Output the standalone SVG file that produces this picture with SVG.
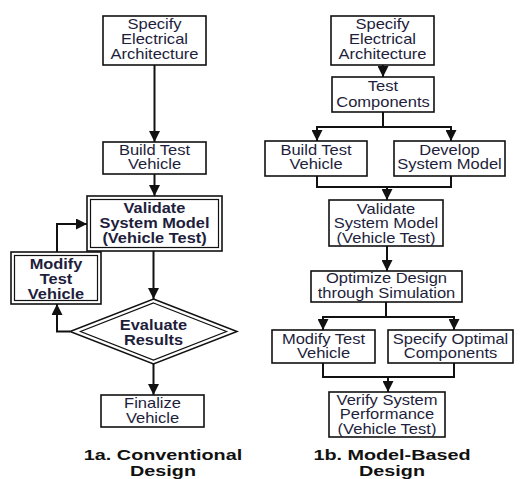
<svg xmlns="http://www.w3.org/2000/svg" width="522" height="479" viewBox="0 0 522 479">
<defs>
<marker id="ah" viewBox="0 0 10 10" refX="10" refY="5" markerWidth="11" markerHeight="11" markerUnits="userSpaceOnUse" orient="auto">
<path d="M0,0 L10,5 L0,10 z" fill="#111"/>
</marker>
<style>
.box{fill:#fff;stroke:#111;stroke-width:1.6}
.thin{fill:none;stroke:#111;stroke-width:1.2}
.t{font-family:"Liberation Sans",Arial,sans-serif;font-size:14px;fill:#1e1e3c;text-anchor:middle}
.b{font-weight:bold}
.cap{font-family:"Liberation Sans",Arial,sans-serif;font-size:15px;font-weight:bold;fill:#111;text-anchor:middle}
.c{fill:none;stroke:#111;stroke-width:2}
.a{fill:none;stroke:#111;stroke-width:2;marker-end:url(#ah)}
</style>
</defs>
<rect width="522" height="479" fill="#fff"/>

<g id="connectors">
<line class="a" x1="154.5" y1="65" x2="154.5" y2="142"/>
<line class="a" x1="154.5" y1="174" x2="154.5" y2="196"/>
<line class="a" x1="153.5" y1="251" x2="153.5" y2="299"/>
<polyline class="a" points="57,252 57,224 87,224"/>
<polyline class="a" points="70,331.5 57,331.5 57,304"/>
<line class="a" x1="153.5" y1="364" x2="153.5" y2="395"/>
<line class="a" x1="383" y1="65" x2="383" y2="77"/>
<line class="c" x1="383" y1="112" x2="383" y2="127"/>
<polyline class="c" points="317,141 317,127 451,127 451,141"/>
<line class="a" x1="317" y1="128" x2="317" y2="141"/>
<line class="a" x1="451" y1="128" x2="451" y2="141"/>
<polyline class="c" points="317,176 317,187 451,187 451,176"/>
<line class="a" x1="387" y1="187" x2="387" y2="200"/>
<line class="a" x1="387" y1="246" x2="387" y2="271"/>
<line class="c" x1="386" y1="302" x2="386" y2="317"/>
<polyline class="c" points="323,330 323,317 454,317 454,330"/>
<line class="a" x1="323" y1="318" x2="323" y2="330"/>
<line class="a" x1="454" y1="318" x2="454" y2="330"/>
<polyline class="c" points="323,363 323,377 454,377 454,363"/>
<line class="a" x1="388" y1="377" x2="388" y2="392"/>
</g>

<g id="l-specify">
<rect class="box" x="103" y="16" width="103" height="49"/>
<text class="t" transform="translate(154.5,0) scale(1.18,1)"><tspan x="0" y="29">Specify</tspan><tspan x="0" y="44">Electrical</tspan><tspan x="0" y="59">Architecture</tspan></text>
</g>
<g id="l-build">
<rect class="box" x="103" y="142" width="103" height="32"/>
<text class="t" transform="translate(154.5,0) scale(1.18,1)"><tspan x="0" y="155">Build Test</tspan><tspan x="0" y="169">Vehicle</tspan></text>
</g>
<g id="l-validate">
<rect class="box" x="87" y="196" width="135" height="55" stroke-width="2.2"/>
<rect class="thin" x="90.5" y="199.5" width="128" height="48"/>
<text class="t b" transform="translate(154.5,0) scale(1.17,1)"><tspan x="0" y="213">Validate</tspan><tspan x="0" y="228">System Model</tspan><tspan x="0" y="243">(Vehicle Test)</tspan></text>
</g>
<g id="l-modify">
<rect class="box" x="11" y="252" width="90" height="52" stroke-width="2.2"/>
<rect class="thin" x="14.5" y="255.5" width="83" height="45"/>
<text class="t b" transform="translate(56,0) scale(1.17,1)"><tspan x="0" y="269">Modify</tspan><tspan x="0" y="284">Test</tspan><tspan x="0" y="299">Vehicle</tspan></text>
</g>
<g id="l-evaluate">
<polygon points="153.5,299 237,331.5 153.5,364 70,331.5" fill="#fff" stroke="#111" stroke-width="1.5"/>
<polygon points="153.5,303 226.5,331.5 153.5,360 80.5,331.5" fill="none" stroke="#111" stroke-width="1.2"/>
<text class="t b" transform="translate(153.5,0) scale(1.17,1)"><tspan x="0" y="330">Evaluate</tspan><tspan x="0" y="345">Results</tspan></text>
</g>
<g id="l-finalize">
<rect class="box" x="101" y="395" width="103" height="32"/>
<text class="t" transform="translate(152.5,0) scale(1.18,1)"><tspan x="0" y="408">Finalize</tspan><tspan x="0" y="423">Vehicle</tspan></text>
</g>

<g id="r-specify">
<rect class="box" x="331" y="16" width="103" height="49"/>
<text class="t" transform="translate(382.5,0) scale(1.18,1)"><tspan x="0" y="29">Specify</tspan><tspan x="0" y="44">Electrical</tspan><tspan x="0" y="59">Architecture</tspan></text>
</g>
<g id="r-test">
<rect class="box" x="332" y="77" width="102" height="35"/>
<text class="t" transform="translate(383,0) scale(1.18,1)"><tspan x="0" y="91">Test</tspan><tspan x="0" y="107">Components</tspan></text>
</g>
<g id="r-build">
<rect class="box" x="265" y="141" width="102" height="35"/>
<text class="t" transform="translate(316,0) scale(1.18,1)"><tspan x="0" y="155">Build Test</tspan><tspan x="0" y="169">Vehicle</tspan></text>
</g>
<g id="r-develop">
<rect class="box" x="394" y="141" width="111" height="35"/>
<text class="t" transform="translate(449.5,0) scale(1.18,1)"><tspan x="0" y="155">Develop</tspan><tspan x="0" y="169">System Model</tspan></text>
</g>
<g id="r-validate">
<rect class="box" x="329" y="200" width="114" height="46"/>
<text class="t" transform="translate(386,0) scale(1.18,1)"><tspan x="0" y="214">Validate</tspan><tspan x="0" y="228">System Model</tspan><tspan x="0" y="243">(Vehicle Test)</tspan></text>
</g>
<g id="r-optimize">
<rect class="box" x="311" y="271" width="151" height="31"/>
<text class="t" transform="translate(386.5,0) scale(1.18,1)"><tspan x="0" y="283">Optimize Design</tspan><tspan x="0" y="298">through Simulation</tspan></text>
</g>
<g id="r-modify">
<rect class="box" x="272" y="330" width="103" height="33"/>
<text class="t" transform="translate(323.5,0) scale(1.18,1)"><tspan x="0" y="344">Modify Test</tspan><tspan x="0" y="358">Vehicle</tspan></text>
</g>
<g id="r-optimal">
<rect class="box" x="388" y="330" width="125" height="33"/>
<text class="t" transform="translate(450.5,0) scale(1.18,1)"><tspan x="0" y="344">Specify Optimal</tspan><tspan x="0" y="358">Components</tspan></text>
</g>
<g id="r-verify">
<rect class="box" x="329" y="392" width="116" height="45"/>
<text class="t" transform="translate(387,0) scale(1.18,1)"><tspan x="0" y="405">Verify System</tspan><tspan x="0" y="419">Performance</tspan><tspan x="0" y="434">(Vehicle Test)</tspan></text>
</g>

<g id="captions">
<text class="cap" transform="translate(163,0) scale(1.32,1)"><tspan x="0" y="460">1a. Conventional</tspan><tspan x="0" y="476">Design</tspan></text>
<text class="cap" transform="translate(392,0) scale(1.32,1)"><tspan x="0" y="460">1b. Model-Based</tspan><tspan x="0" y="476">Design</tspan></text>
</g>
</svg>
